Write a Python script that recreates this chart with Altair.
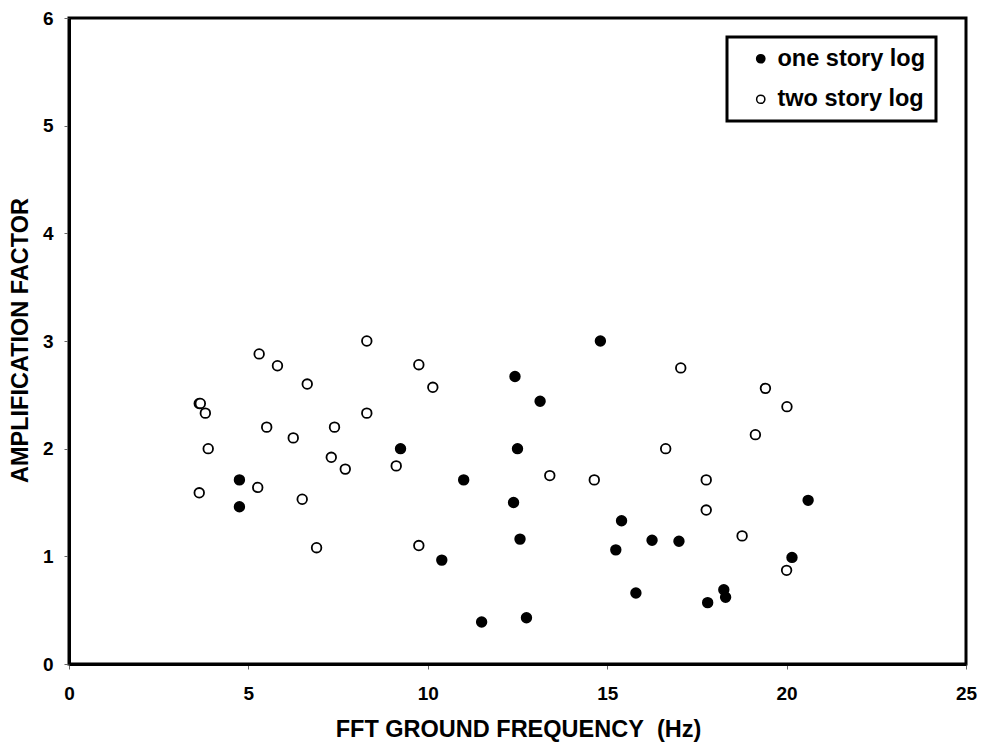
import altair as alt
import pandas as pd

# one story log (filled)
one_x = [4.75, 4.75, 9.24, 11.00, 12.43, 13.13, 12.50, 12.39, 12.57, 10.39, 11.50, 12.75,
         14.81, 15.40, 15.24, 16.25, 17.00, 15.80, 17.80, 18.25, 18.30, 20.15, 20.60]
one_y = [1.71, 1.46, 2.00, 1.71, 2.67, 2.44, 2.00, 1.50, 1.16, 0.965, 0.39, 0.43,
         3.00, 1.33, 1.06, 1.15, 1.14, 0.66, 0.57, 0.69, 0.62, 0.99, 1.52]

# two story log (open)
two_x = [3.63, 3.66, 3.80, 3.88, 3.63, 5.30, 5.81, 6.64, 5.51, 6.25, 7.40, 7.31, 7.70,
         5.26, 6.50, 6.90, 8.30, 8.30, 9.12, 9.75, 10.14, 9.75, 13.40, 14.64, 17.05,
         16.63, 17.76, 17.76, 19.41, 20.01, 19.13, 18.76, 20.00]
two_y = [2.42, 2.42, 2.33, 2.00, 1.59, 2.88, 2.77, 2.60, 2.20, 2.10, 2.20, 1.92, 1.81,
         1.64, 1.53, 1.08, 3.00, 2.33, 1.84, 2.78, 2.57, 1.10, 1.75, 1.71, 2.75,
         2.00, 1.71, 1.43, 2.56, 2.39, 2.13, 1.19, 0.87]

series_names = ["one story log", "two story log"]
x_ticks = [0, 5, 10, 15, 20, 25]
y_ticks = [0, 1, 2, 3, 4, 5, 6]

df = pd.concat([
    pd.DataFrame({"freq": one_x, "amp": one_y, "series": series_names[0]}),
    pd.DataFrame({"freq": two_x, "amp": two_y, "series": series_names[1]}),
])

FONT = "Liberation Sans"

points = alt.Chart(df).mark_point(
    filled=True, shape="circle", size=92, stroke="black", strokeWidth=1.8, opacity=1
).encode(
    x=alt.X("freq:Q",
            scale=alt.Scale(domain=[0, 25], nice=False, zero=False),
            axis=alt.Axis(values=x_ticks, title="FFT GROUND FREQUENCY\u00a0 (Hz)",
                          titleX=449, titleY=65, titleBaseline="middle",
                          labelPadding=15, labelFlush=False)),
    y=alt.Y("amp:Q",
            scale=alt.Scale(domain=[0, 6], nice=False, zero=False),
            axis=alt.Axis(values=y_ticks, title="AMPLIFICATION FACTOR",
                          titleX=-49, titleY=322, titleBaseline="middle",
                          labelPadding=11, labelFlush=False)),
    fill=alt.Fill("series:N",
                  scale=alt.Scale(domain=series_names, range=["black", "white"]),
                  legend=alt.Legend(title=None, orient="none", legendX=658, legendY=19,
                                    symbolType="circle", symbolSize=68,
                                    symbolStrokeColor="black", symbolStrokeWidth=1.5,
                                    symbolOffset=12, labelOffset=5,
                                    labelFont=FONT, labelFontSize=23.5,
                                    labelFontWeight="bold", labelColor="black",
                                    rowPadding=15.5, padding=10,
                                    fillColor="white", strokeColor="black",
                                    labelLimit=400)),
)

chart = points.properties(
    width=897, height=646,
    autosize=alt.AutoSizeParams(type="none"),
    padding={"left": 61, "top": 10, "right": 12, "bottom": 84},
).configure_view(
    stroke="black", strokeWidth=3
).configure_axis(
    domainColor="black", domainWidth=3,
    tickColor="#666666", tickSize=5, tickWidth=1,
    grid=False,
    labelFont=FONT, labelFontSize=19, labelFontWeight="bold", labelColor="black",
    titleFont=FONT, titleFontSize=23.5, titleFontWeight="bold", titleColor="black",
).configure_legend(
    strokeWidth=3
)

chart.save("out.html", embed_options={"renderer": "svg", "actions": False})
